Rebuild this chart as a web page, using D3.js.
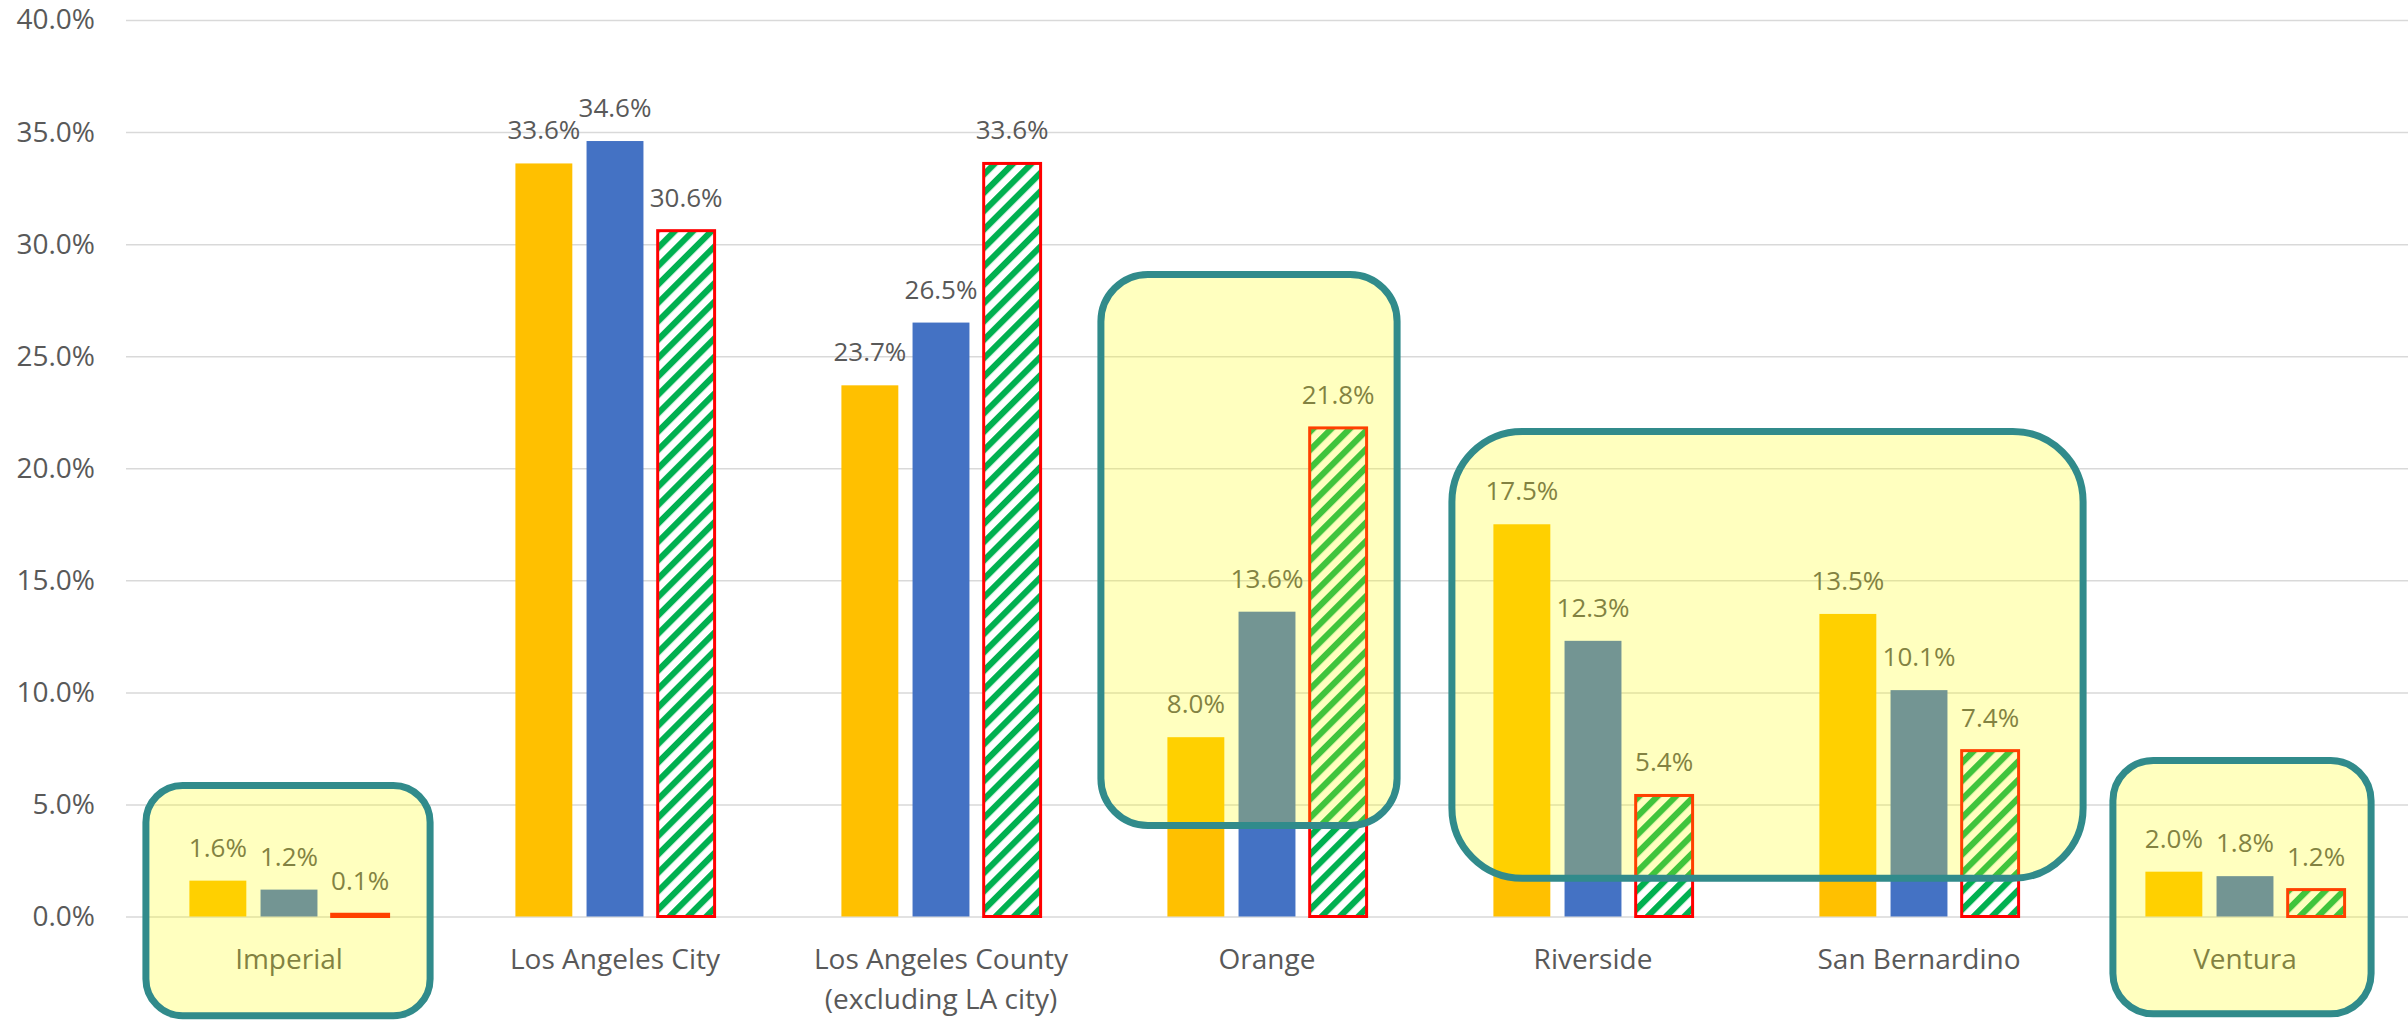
<!DOCTYPE html>
<html>
<head>
<meta charset="utf-8">
<script src="https://cdn.jsdelivr.net/npm/d3@7"></script>
<style>
  body { margin: 0; background: #fff; }
  svg { display: block; }
  text { font-family: "Open Sans", "Noto Sans", sans-serif; }
</style>
</head>
<body>
<svg id="chart" width="2408" height="1023"></svg>
<script>
// Regions along the x axis
const categories = [
  "Imperial",
  "Los Angeles City",
  "Los Angeles County (excluding LA city)",
  "Orange",
  "Riverside",
  "San Bernardino",
  "Ventura"
];

// Percent shares per region, three series
const seriesGold    = [1.6, 33.6, 23.7, 8.0, 17.5, 13.5, 2.0];
const seriesBlue    = [1.2, 34.6, 26.5, 13.6, 12.3, 10.1, 1.8];
const seriesHatched = [0.1, 30.6, 33.6, 21.8, 5.4, 7.4, 1.2];

// Y axis ticks (percent)
const yTicks = [0, 5, 10, 15, 20, 25, 30, 35, 40];

// Callout boxes: which regions they group, and their vertical extent in axis units
const callouts = [
  { first: 0, last: 0, top: 6.0,  bottom: -4.58, padL: 47, padR: 45 },
  { first: 3, last: 3, top: 28.8, bottom: 3.9,   padL: 70, padR: 34 },
  { first: 4, last: 5, top: 21.8, bottom: 1.55,  padL: 45, padR: 68 },
  { first: 6, last: 6, top: 7.12, bottom: -4.5,  padL: 36, padR: 30 }
];

const svg = d3.select("#chart");

const plotLeft = 126, plotRight = 2408;
const y = d3.scaleLinear().domain([0, 40]).range([916.5, 20]);

const x0 = d3.scaleBand()
  .domain(categories)
  .range([plotLeft, plotRight])
  .paddingInner(0.389)
  .paddingOuter(0.1945);

const seriesKeys = ["gold", "blue", "hatched"];
const x1 = d3.scaleBand()
  .domain(seriesKeys)
  .range([0, x0.bandwidth()])
  .paddingInner(0.2);

// Hatch pattern for the third series
const defs = svg.append("defs");
const pat = defs.append("pattern")
  .attr("id", "hatch")
  .attr("patternUnits", "userSpaceOnUse")
  .attr("width", 13)
  .attr("height", 13)
  .attr("patternTransform", "rotate(45)");
pat.append("rect").attr("width", 13).attr("height", 13).attr("fill", "#ffffff");
pat.append("rect").attr("x", 0).attr("width", 6.2).attr("height", 13).attr("fill", "#00B050");

// Gridlines
const grid = svg.append("g")
  .attr("transform", `translate(${plotLeft},0)`)
  .call(d3.axisLeft(y).tickValues(yTicks).tickSize(-(plotRight - plotLeft)).tickFormat(""));
grid.select(".domain").remove();
grid.selectAll(".tick line").attr("stroke", "#D9D9D9").attr("stroke-width", 1.5);

// Y axis labels
const yAxis = svg.append("g")
  .attr("transform", `translate(95,0)`)
  .call(d3.axisLeft(y).tickValues(yTicks).tickSize(0).tickPadding(0)
    .tickFormat(d => d.toFixed(1) + "%"));
yAxis.select(".domain").remove();
yAxis.selectAll("text")
  .attr("fill", "#595959")
  .attr("font-size", 28)
  .attr("font-family", "\"Open Sans\", sans-serif");

// Bars
const rows = categories.map((c, i) => ({
  cat: c,
  vals: [
    { key: "gold", v: seriesGold[i] },
    { key: "blue", v: seriesBlue[i] },
    { key: "hatched", v: seriesHatched[i] }
  ]
}));

const fills = { gold: "#FFC000", blue: "#4472C4", hatched: "url(#hatch)" };

const groups = svg.append("g").selectAll("g")
  .data(rows)
  .join("g")
  .attr("transform", d => `translate(${x0(d.cat)},0)`);

groups.selectAll("rect")
  .data(d => d.vals)
  .join("rect")
  .attr("x", d => x1(d.key))
  .attr("width", x1.bandwidth())
  .attr("y", d => y(d.v))
  .attr("height", d => y(0) - y(d.v))
  .attr("fill", d => fills[d.key])
  .attr("stroke", d => d.key === "hatched" ? "#FF0000" : "none")
  .attr("stroke-width", 3);

// Value labels
groups.selectAll("text.val")
  .data(d => d.vals)
  .join("text")
  .attr("class", "val")
  .attr("x", d => x1(d.key) + x1.bandwidth() / 2)
  .attr("y", d => y(d.v) - 24)
  .attr("text-anchor", "middle")
  .attr("font-size", 26)
  .attr("fill", "#595959")
  .text(d => d.v.toFixed(1) + "%");

// Category labels (wrap at the parenthesis)
const catLabels = svg.append("g").selectAll("text")
  .data(categories)
  .join("text")
  .attr("x", d => x0(d) + x0.bandwidth() / 2)
  .attr("y", 969)
  .attr("text-anchor", "middle")
  .attr("font-size", 28)
  .attr("fill", "#595959");
catLabels.each(function(d) {
  const parts = d.split(" (");
  const t = d3.select(this);
  parts.forEach((p, i) => {
    t.append("tspan")
      .attr("x", x0(d) + x0.bandwidth() / 2)
      .attr("dy", i === 0 ? 0 : 40)
      .text(i === 0 ? p : "(" + p);
  });
});

// Callout boxes: translucent yellow wash with a teal rounded outline
const sw = 7;
const boxG = svg.append("g");
callouts.forEach(c => {
  const left = x0(categories[c.first]) - c.padL;
  const right = x0(categories[c.last]) + x0.bandwidth() + c.padR;
  const top = y(c.top), bottom = y(c.bottom);
  const w = right - left, h = bottom - top;
  const r = 0.155 * Math.min(w, h);
  boxG.append("rect")
    .attr("x", left + sw / 2)
    .attr("y", top + sw / 2)
    .attr("width", w - sw)
    .attr("height", h - sw)
    .attr("rx", r)
    .attr("ry", r)
    .attr("fill", "#FFFF00")
    .attr("fill-opacity", 0.25)
    .attr("stroke", "#318B8B")
    .attr("stroke-width", sw);
});
</script>
</body>
</html>
